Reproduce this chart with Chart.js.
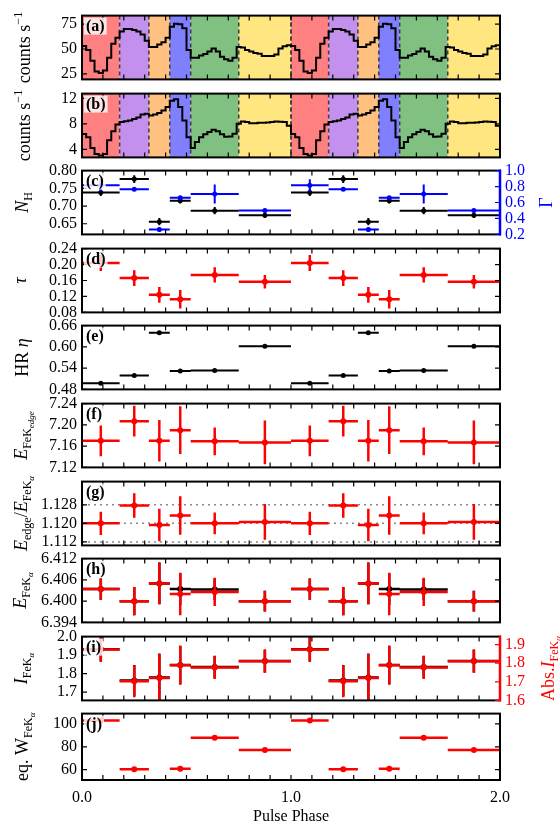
<!DOCTYPE html>
<html>
<head>
<meta charset="utf-8">
<script src="https://cdn.jsdelivr.net/npm/chart.js@4.4.1/dist/chart.umd.min.js"></script>
<style>
  html, body { margin: 0; padding: 0; background: #fff; overflow: hidden; }
  #wrap { position: relative; width: 560px; height: 823px; overflow: hidden; }
  #wrap canvas { position: absolute; left: 0; }
</style>
</head>
<body>
<div id="wrap"></div>
<script>
const SERIF = '"Liberation Serif", "DejaVu Serif", serif';

// phase intervals used for the phase-resolved fits (one cycle, repeated twice)
const binEdges = [0, 0.18, 0.32, 0.42, 0.52, 0.75, 1.0];
const bandColors = ['#ff8080', '#c490ee', '#ffc080', '#8080ff', '#80c080', '#ffe680'];
const phaseTicks = [0, 1, 2];

// pulse profiles, 50 bins per cycle
const rateA = [53, 49, 38.3, 27.5, 25.8, 28.5, 41.3, 55.2, 61.4, 67.6, 70.1, 70.1, 69.1, 67.6, 64.5,
  58.3, 52.1, 52.1, 54.6, 56.8, 61.4, 72.2, 75.3, 74.7, 70.7, 49.1, 41.3, 41.3, 43.5, 45.0, 47.5,
  50.6, 47.5, 42.3, 39.8, 38.3, 41.3, 52.1, 51.5, 49.1, 47.5, 46.0, 45.3, 42.9, 42.9, 42.9, 44.4,
  50.6, 52.8, 53.7];
const rateB = [6.4, 5.9, 4.23, 3.28, 3.04, 3.28, 5.42, 6.85, 7.90, 8.28, 8.42, 8.52, 8.76, 8.99, 9.47,
  9.61, 9.33, 9.47, 9.71, 10.09, 10.66, 11.61, 11.85, 10.66, 8.52, 5.90, 4.23, 5.18, 5.90, 6.37, 6.75,
  7.09, 6.85, 6.37, 5.99, 6.04, 6.47, 8.04, 8.37, 8.28, 8.09, 8.09, 8.18, 8.18, 8.23, 8.28, 8.37,
  8.33, 8.28, 7.71];

// fit parameters per phase interval
const nH = [0.738, 0.776, 0.656, 0.715, 0.687, 0.674];
const nHErr = [0.010, 0.011, 0.010, 0.008, 0.010, 0.008];
const gamma = [0.815, 0.765, 0.261, 0.66, 0.706, 0.50];
const gammaErr = [0.077, 0.02, 0.03, 0.02, 0.12, 0.012];
const tau = [0.204, 0.166, 0.124, 0.113, 0.174, 0.157];
const tauErr = [0.02, 0.02, 0.02, 0.023, 0.019, 0.017];
const hr = [0.497, 0.519, 0.640, 0.532, 0.533, 0.602];
const hrErr = [0.002, 0.002, 0.002, 0.002, 0.002, 0.002];
const eEdge = [7.170, 7.207, 7.170, 7.190, 7.169, 7.167];
const eEdgeErr = [0.029, 0.029, 0.039, 0.045, 0.026, 0.041];
const ratio = [1.1200, 1.1277, 1.1193, 1.1234, 1.1200, 1.1206];
const ratioErr = [0.005, 0.0053, 0.007, 0.0083, 0.0047, 0.0077];
const ratioRefs = [1.112, 1.120, 1.128];
const eFe = [6.4034, 6.4000, 6.4050, 6.4020, 6.4026, 6.4000];
const eFeErr = [0.003, 0.004, 0.0059, 0.006, 0.004, 0.0029];
const eFeBlack = [6.4034, 6.4000, 6.4050, 6.4034, 6.4033, 6.4000];
const eFeBlackErr = [0.003, 0.004, 0.0059, 0.0045, 0.003, 0.0029];
const iFe = [1.932, 1.762, 1.779, 1.847, 1.836, 1.868];
const iFeErr = [0.065, 0.085, 0.13, 0.104, 0.061, 0.062];
const absI = [1.873, 1.703, 1.720, 1.789, 1.777, 1.810];
const absIErr = [0.066, 0.086, 0.13, 0.105, 0.062, 0.062];
const eqW = [102.9, 60.3, null, 60.8, 87.8, 77.2];
const eqWErr = [0.8, 0.8, 0, 0.8, 0.8, 0.8];

// tick values
const ticksA = [25, 50, 75];
const ticksB = [4, 8, 12];
const ticksNH = [0.65, 0.70, 0.75, 0.80];
const ticksGamma = [0.2, 0.4, 0.6, 0.8, 1.0];
const ticksTau = [0.08, 0.12, 0.16, 0.20, 0.24];
const ticksHR = [0.48, 0.54, 0.60, 0.66];
const ticksEdge = [7.12, 7.16, 7.20, 7.24];
const ticksRatio = [1.112, 1.120, 1.128];
const ticksEFe = [6.394, 6.400, 6.406, 6.412];
const ticksI = [1.7, 1.8, 1.9, 2.0];
const ticksAbsI = [1.6, 1.7, 1.8, 1.9];
const ticksW = [60, 80, 100];

const panelTop = [13, 91, 168, 246, 323, 401, 479, 556, 634, 711];
const panelH = 69;

function curve(vals) {
  const pts = [];
  for (let k = 0; k < 2; k++) vals.forEach((v, i) => pts.push({x: k + i / vals.length, y: v}));
  pts.push({x: 2, y: vals[vals.length - 1]});
  return {data: pts, stepped: 'before', borderColor: '#000', borderWidth: 2, pointRadius: 0};
}

function crosses(vals, errs, color, axis, lw, r) {
  const lines = [], pts = [];
  for (let k = 0; k < 2; k++) {
    vals.forEach((v, i) => {
      if (v === null) return;
      const x0 = binEdges[i] + k, x1 = binEdges[i + 1] + k, xc = (x0 + x1) / 2;
      lines.push({x: x0, y: v}, {x: x1, y: v}, {x: xc, y: null});
      lines.push({x: xc, y: v - errs[i]}, {x: xc, y: v + errs[i]}, {x: xc, y: null});
      pts.push({x: xc, y: v});
    });
  }
  return [
    {data: pts, showLine: false, pointRadius: r, pointBackgroundColor: color, pointBorderWidth: 0, yAxisID: axis},
    {data: lines, borderColor: color, borderWidth: lw, pointRadius: 0, spanGaps: false, yAxisID: axis}
  ];
}

function hline(v, axis) {
  return {data: [{x: 0, y: v}, {x: 2, y: v}], borderColor: '#8a8a8a', borderWidth: 1.5,
    borderDash: [2, 4], pointRadius: 0, yAxisID: axis};
}

// rich-text axis titles: [text, kind] with kind r/i (main), s (sub), ss (sub-sub), p (sup)
function segFont(kind) {
  if (kind === 'i') return {f: 'italic 18px ' + SERIF, dy: 0};
  if (kind === 's') return {f: '12px ' + SERIF, dy: 4};
  if (kind === 'ss') return {f: 'italic 9px ' + SERIF, dy: 7};
  if (kind === 'p') return {f: '12px ' + SERIF, dy: -8};
  return {f: '18px ' + SERIF, dy: 0};
}
function drawRich(ctx, segs, bx, cy, color) {
  ctx.save();
  ctx.translate(bx, cy);
  ctx.rotate(-Math.PI / 2);
  ctx.fillStyle = color;
  ctx.textBaseline = 'alphabetic';
  let total = 0;
  const w = segs.map(s => { ctx.font = segFont(s[1]).f; const m = ctx.measureText(s[0]).width; total += m; return m; });
  let x = -total / 2;
  segs.forEach((s, i) => {
    const sf = segFont(s[1]);
    ctx.font = sf.f;
    ctx.fillText(s[0], x, sf.dy);
    x += w[i];
  });
  ctx.restore();
}

const decor = {
  id: 'decor',
  beforeDatasetsDraw(chart, args, o) {
    if (!o.bands) return;
    const {ctx, chartArea: a} = chart;
    const xs = chart.scales.x;
    ctx.save();
    for (let k = 0; k < 2; k++) {
      for (let i = 0; i < bandColors.length; i++) {
        const x0 = xs.getPixelForValue(binEdges[i] + k), x1 = xs.getPixelForValue(binEdges[i + 1] + k);
        ctx.fillStyle = bandColors[i];
        ctx.fillRect(x0, a.top, x1 - x0, a.bottom - a.top);
      }
    }
    ctx.strokeStyle = '#3c3c3c';
    ctx.lineWidth = 1.5;
    ctx.setLineDash([4, 3]);
    for (let k = 0; k < 2; k++) {
      binEdges.forEach(e => {
        const v = e + k;
        if (v <= 0 || v >= 2) return;
        const px = xs.getPixelForValue(v);
        ctx.beginPath();
        ctx.moveTo(px, a.top);
        ctx.lineTo(px, a.bottom);
        ctx.stroke();
      });
    }
    ctx.restore();
  },
  afterDraw(chart, args, o) {
    const {ctx, chartArea: a} = chart;
    const xs = chart.scales.x, ys = chart.scales.y, y2 = chart.scales.y2;
    ctx.save();
    // inward ticks
    ctx.lineWidth = 1.2;
    ctx.strokeStyle = '#000';
    ctx.beginPath();
    for (let t = 0; t <= 20; t++) {
      const px = xs.getPixelForValue(t / 10);
      ctx.moveTo(px, a.bottom); ctx.lineTo(px, a.bottom - 5);
      ctx.moveTo(px, a.top); ctx.lineTo(px, a.top + 5);
    }
    ys.ticks.forEach(t => {
      const py = ys.getPixelForValue(t.value);
      ctx.moveTo(a.left, py); ctx.lineTo(a.left + 5, py);
      if (!y2) { ctx.moveTo(a.right, py); ctx.lineTo(a.right - 5, py); }
    });
    ctx.stroke();
    // frame
    ctx.lineWidth = 2;
    ctx.strokeRect(a.left, a.top, a.right - a.left, a.bottom - a.top);
    if (y2) {
      ctx.strokeStyle = o.rightColor;
      ctx.lineWidth = 1.2;
      ctx.beginPath();
      y2.ticks.forEach(t => {
        const py = y2.getPixelForValue(t.value);
        ctx.moveTo(a.right, py); ctx.lineTo(a.right - 5, py);
      });
      ctx.stroke();
      ctx.lineWidth = 2.5;
      ctx.beginPath();
      ctx.moveTo(a.right, a.top - 1); ctx.lineTo(a.right, a.bottom + 1);
      ctx.stroke();
    }
    // panel label
    ctx.font = 'bold 16px ' + SERIF;
    const lw = ctx.measureText(o.label).width;
    ctx.fillStyle = 'rgba(255,255,255,0.8)';
    ctx.fillRect(a.left + 2, a.top + 2, lw + 4, 17);
    ctx.fillStyle = '#000';
    ctx.textBaseline = 'alphabetic';
    ctx.fillText(o.label, a.left + 4, a.top + 15);
    ctx.restore();
    const cy = (a.top + a.bottom) / 2;
    if (o.title) drawRich(ctx, o.title, o.titleX, cy, '#000');
    if (o.rightTitle) drawRich(ctx, o.rightTitle, o.rightTitleX, cy, o.rightColor);
  }
};

const panels = [
  {label: '(a)', min: 19.5, max: 83.5, ticks: ticksA, dec: 0, bands: true,
    title: [['counts s', 'r'], ['\u22121', 'p']], titleX: 30, datasets: [curve(rateA)]},
  {label: '(b)', min: 2.75, max: 12.75, ticks: ticksB, dec: 0, bands: true,
    title: [['counts s', 'r'], ['\u22121', 'p']], titleX: 30, datasets: [curve(rateB)]},
  {label: '(c)', min: 0.62, max: 0.80, ticks: ticksNH, dec: 2,
    title: [['N', 'i'], ['H', 's']], titleX: 28,
    right: {min: 0.2, max: 1.0, ticks: ticksGamma, dec: 1, color: '#0000ff'},
    rightTitle: [['\u0393', 'r']], rightTitleX: 552,
    datasets: [...crosses(gamma, gammaErr, '#0000ff', 'y2', 2, 2.5), ...crosses(nH, nHErr, '#000', 'y', 2, 2.5)]},
  {label: '(d)', min: 0.08, max: 0.24, ticks: ticksTau, dec: 2,
    title: [['\u03c4', 'i']], titleX: 26, datasets: crosses(tau, tauErr, '#ff0000', 'y', 2.5, 3)},
  {label: '(e)', min: 0.48, max: 0.66, ticks: ticksHR, dec: 2,
    title: [['HR ', 'r'], ['\u03b7', 'i']], titleX: 28, datasets: crosses(hr, hrErr, '#000', 'y', 2, 2.5)},
  {label: '(f)', min: 7.12, max: 7.24, ticks: ticksEdge, dec: 2,
    title: [['E', 'i'], ['FeK', 's'], ['edge', 'ss']], titleX: 27, datasets: crosses(eEdge, eEdgeErr, '#ff0000', 'y', 2.5, 3)},
  {label: '(g)', min: 1.1105, max: 1.138, ticks: ticksRatio, dec: 3,
    title: [['E', 'i'], ['edge', 's'], ['/', 'r'], ['E', 'i'], ['FeK', 's'], ['\u03b1', 'ss']], titleX: 27,
    datasets: [...crosses(ratio, ratioErr, '#ff0000', 'y', 2.5, 3), ...ratioRefs.map(v => hline(v, 'y'))]},
  {label: '(h)', min: 6.394, max: 6.412, ticks: ticksEFe, dec: 3,
    title: [['E', 'i'], ['FeK', 's'], ['\u03b1', 'ss']], titleX: 26,
    datasets: [...crosses(eFe, eFeErr, '#ff0000', 'y', 2.5, 3), ...crosses(eFeBlack, eFeBlackErr, '#000', 'y', 2.5, 3)]},
  {label: '(i)', min: 1.655, max: 2.0, ticks: ticksI, dec: 1,
    title: [['I', 'i'], ['FeK', 's'], ['\u03b1', 'ss']], titleX: 27,
    right: {min: 1.6, max: 1.943, ticks: ticksAbsI, dec: 1, color: '#ff0000'},
    rightTitle: [['Abs.', 'r'], ['I', 'i'], ['FeK', 's'], ['\u03b1', 'ss']], rightTitleX: 554,
    datasets: [...crosses(absI, absIErr, '#ff0000', 'y2', 2.5, 3), ...crosses(iFe, iFeErr, '#000', 'y', 2.5, 3)]},
  {label: '(j)', min: 51, max: 109, ticks: ticksW, dec: 0,
    title: [['eq. W', 'r'], ['FeK', 's'], ['\u03b1', 'ss']], titleX: 28,
    datasets: crosses(eqW, eqWErr, '#ff0000', 'y', 2.5, 3)}
];

const wrap = document.getElementById('wrap');
const tickFont = {family: SERIF, size: 16};

panels.forEach((p, n) => {
  const last = n === panels.length - 1;
  const padTop = 12, padBot = last ? 0 : 12, xAxisH = last ? 48 : 0;
  const cv = document.createElement('canvas');
  cv.width = 560;
  cv.height = padTop + panelH + padBot + xAxisH;
  cv.style.top = (panelTop[n] - padTop) + 'px';
  wrap.appendChild(cv);

  const scales = {
    x: {
      type: 'linear', min: 0, max: 2, display: last,
      grid: {display: false, drawTicks: false}, border: {display: false},
      afterBuildTicks: s => { s.ticks = phaseTicks.map(v => ({value: v})); },
      ticks: {font: tickFont, color: '#000', padding: 8, maxRotation: 0, autoSkip: false, callback: v => v.toFixed(1)},
      title: {display: true, text: 'Pulse Phase', font: tickFont, color: '#000', padding: {top: 0, bottom: 2}},
      afterFit: s => { s.height = xAxisH; }
    },
    y: {
      position: 'left', min: p.min, max: p.max,
      grid: {display: false, drawTicks: false}, border: {display: false},
      afterBuildTicks: s => { s.ticks = p.ticks.map(v => ({value: v})); },
      ticks: {font: tickFont, color: '#000', padding: 5, autoSkip: false, callback: v => v.toFixed(p.dec)},
      afterFit: s => { s.width = 82; }
    }
  };
  if (p.right) {
    scales.y2 = {
      position: 'right', min: p.right.min, max: p.right.max,
      grid: {display: false, drawTicks: false}, border: {display: false},
      afterBuildTicks: s => { s.ticks = p.right.ticks.map(v => ({value: v})); },
      ticks: {font: tickFont, color: p.right.color, padding: 5, autoSkip: false, callback: v => v.toFixed(p.right.dec)},
      afterFit: s => { s.width = 60; }
    };
  }

  new Chart(cv, {
    type: 'line',
    data: {datasets: p.datasets},
    options: {
      responsive: false,
      animation: false,
      layout: {padding: {top: padTop, bottom: padBot, left: 0, right: p.right ? 0 : 60}},
      plugins: {
        legend: {display: false},
        tooltip: {enabled: false},
        decor: {
          label: p.label, bands: !!p.bands, title: p.title, titleX: p.titleX,
          rightTitle: p.rightTitle, rightTitleX: p.rightTitleX, rightColor: p.right ? p.right.color : '#000'
        }
      },
      scales
    },
    plugins: [decor]
  });
});
</script>
</body>
</html>
